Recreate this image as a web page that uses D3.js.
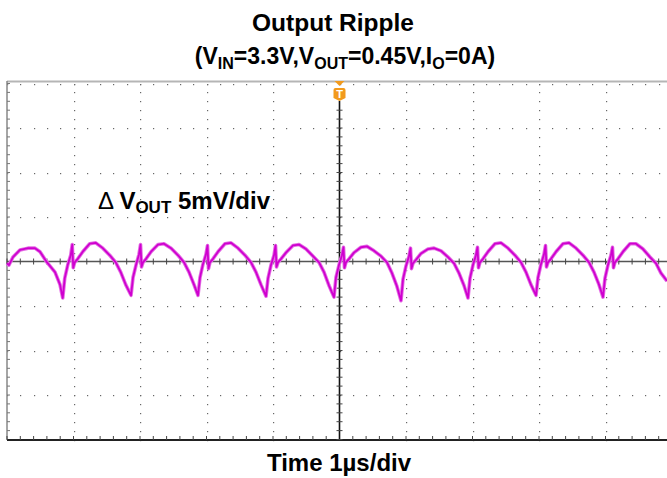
<!DOCTYPE html>
<html>
<head>
<meta charset="utf-8">
<script src="https://cdn.jsdelivr.net/npm/d3@7"></script>
<style>
  body { margin: 0; background: #fff; }
  svg { display: block; }
  text { font-family: "Liberation Sans", Arial, sans-serif; font-weight: bold; fill: #000; }
</style>
</head>
<body>
<div id="chart"></div>
<script>
// scope settings: 10 horizontal divisions of 1 us, 8 vertical divisions of 5 mV
let timeDomain = [0, 10];
let voltDomain = [-20, 20];
let timeMajor = [0, 1, 2, 3, 4, 5, 6, 7, 8, 9, 10];
let voltMajor = [-20, -15, -10, -5, 0, 5, 10, 15, 20];

// ripple trace: [time us, ripple mV]
let trace = [
  [0.000, -0.2], [0.030, -0.4], [0.090, 0.5], [0.195, 1.3], [0.316, 1.5], [0.421, 1.5], [0.496, 1.1], [0.602, -0.1], [0.722, -1.2], [0.797, -2.6],
  [0.838, -4.1], [0.868, -1.9], [0.913, -0.4], [0.958, 0.7], [0.981, 1.9], [0.996, -0.7], [1.018, -0.1], [1.064, 0.3], [1.139, 1.1], [1.244, 2.0], [1.334, 2.1], [1.440, 1.5], [1.545, 0.7], [1.635, -0.1], [1.710, -1.2], [1.785, -2.6],
  [1.865, -3.8], [1.895, -1.8], [1.940, -0.4], [1.985, 0.8], [2.008, 1.9], [2.023, -0.6], [2.045, -0.1], [2.091, 0.3], [2.166, 1.1], [2.271, 1.9], [2.361, 2.0], [2.467, 1.5], [2.572, 0.7], [2.662, -0.1], [2.737, -1.2], [2.812, -2.6],
  [2.872, -3.8], [2.902, -1.8], [2.947, -0.3], [2.992, 0.8], [3.015, 1.8], [3.030, -0.8], [3.052, -0.1], [3.098, 0.3], [3.173, 1.1], [3.278, 2.0], [3.368, 2.1], [3.474, 1.5], [3.579, 0.7], [3.669, -0.1], [3.744, -1.2], [3.819, -2.6],
  [3.895, -3.9], [3.925, -1.9], [3.970, -0.4], [4.015, 0.7], [4.038, 1.8], [4.053, -0.6], [4.075, -0.1], [4.121, 0.3], [4.196, 1.0], [4.301, 1.8], [4.391, 1.9], [4.497, 1.4], [4.602, 0.6], [4.692, -0.1], [4.767, -1.2], [4.842, -2.7],
  [4.917, -4.0], [4.947, -1.8], [4.992, -0.4], [5.037, 0.7], [5.060, 1.6], [5.075, -0.7], [5.097, -0.1], [5.143, 0.3], [5.218, 1.0], [5.323, 1.6], [5.413, 1.7], [5.519, 1.2], [5.624, 0.6], [5.714, -0.1], [5.789, -1.3], [5.864, -2.8],
  [5.925, -4.4], [5.955, -2.0], [6.000, -0.5], [6.045, 0.6], [6.068, 1.5], [6.083, -0.8], [6.105, -0.2], [6.151, 0.2], [6.226, 0.9], [6.331, 1.4], [6.421, 1.5], [6.527, 1.2], [6.632, 0.5], [6.722, -0.2], [6.797, -1.3], [6.872, -2.7],
  [6.932, -4.1], [6.962, -1.9], [7.007, -0.4], [7.052, 0.7], [7.075, 1.6], [7.090, -0.7], [7.112, -0.1], [7.158, 0.3], [7.233, 1.1], [7.338, 2.0], [7.428, 2.1], [7.534, 1.5], [7.639, 0.7], [7.729, -0.1], [7.804, -1.2], [7.879, -2.6],
  [7.955, -3.8], [7.985, -1.8], [8.030, -0.3], [8.075, 0.8], [8.098, 1.8], [8.113, -0.6], [8.135, -0.1], [8.181, 0.3], [8.256, 1.1], [8.361, 2.0], [8.451, 2.1], [8.557, 1.5], [8.662, 0.7], [8.752, -0.1], [8.827, -1.2], [8.902, -2.6],
  [8.962, -4.0], [8.992, -1.9], [9.037, -0.4], [9.082, 0.7], [9.105, 1.6], [9.120, -0.7], [9.142, -0.1], [9.188, 0.3], [9.263, 1.1], [9.368, 2.0], [9.458, 2.0], [9.564, 1.4], [9.669, 0.5], [9.759, -0.2], [9.834, -1.3], [9.925, -2.2]
];

let dim = {
  'width': 667,
  'height': 478
};

let svg = d3.select('#chart').append('svg')
  .attr('width', dim.width)
  .attr('height', dim.height);

svg.append('rect').attr('width', dim.width).attr('height', dim.height).attr('fill', '#fff');

let scaleX = d3.scaleLinear().domain(timeDomain).range([7, 672]);
let scaleY = d3.scaleLinear().domain(voltDomain).range([439.5, 83.5]);

let minorX = d3.range(timeDomain[0], timeDomain[1] + 0.001, 0.2);
let minorY = d3.range(voltDomain[0], voltDomain[1] + 0.001, 1);

let grid = svg.append('g');

// dotted rows
voltMajor.filter(v => v != 0 && v != voltDomain[0]).forEach(v => {
  grid.selectAll(null)
    .data(minorX)
    .join('rect')
    .attr('x', d => Math.round(scaleX(d)))
    .attr('y', Math.round(scaleY(v)))
    .attr('width', 1.2)
    .attr('height', 1.2)
    .attr('fill', '#666');
});

// dotted columns
timeMajor.filter(t => t != 5 && t != 0 && t != 10).forEach(t => {
  grid.selectAll(null)
    .data(minorY)
    .join('rect')
    .attr('x', Math.round(scaleX(t)))
    .attr('y', d => Math.round(scaleY(d)))
    .attr('width', 1.2)
    .attr('height', 1.2)
    .attr('fill', '#666');
});

// frame
grid.append('line')
  .attr('x1', scaleX(0)).attr('x2', dim.width)
  .attr('y1', 81.5).attr('y2', 81.5)
  .attr('stroke', '#b5b5b5').attr('stroke-width', 2);

grid.append('line')
  .attr('x1', scaleX(0)).attr('x2', scaleX(0))
  .attr('y1', 81).attr('y2', scaleY(voltDomain[0]))
  .attr('stroke', '#888').attr('stroke-width', 1.5);

grid.selectAll(null)
  .data(minorY)
  .join('line')
  .attr('x1', scaleX(0)).attr('x2', scaleX(0) + 3)
  .attr('y1', d => scaleY(d)).attr('y2', d => scaleY(d))
  .attr('stroke', '#777');

grid.append('line')
  .attr('x1', scaleX(0)).attr('x2', dim.width)
  .attr('y1', 440).attr('y2', 440)
  .attr('stroke', '#222').attr('stroke-width', 2);

grid.selectAll(null)
  .data(minorX)
  .join('line')
  .attr('x1', d => scaleX(d)).attr('x2', d => scaleX(d))
  .attr('y1', 436).attr('y2', 440)
  .attr('stroke', '#444');

// centre axes
grid.append('line')
  .attr('x1', scaleX(0)).attr('x2', dim.width)
  .attr('y1', scaleY(0)).attr('y2', scaleY(0))
  .attr('stroke', '#555').attr('stroke-width', 1.6);

grid.selectAll(null)
  .data(minorX)
  .join('line')
  .attr('x1', d => scaleX(d)).attr('x2', d => scaleX(d))
  .attr('y1', scaleY(0) - 3).attr('y2', scaleY(0) + 3)
  .attr('stroke', '#444');

grid.append('line')
  .attr('x1', scaleX(5)).attr('x2', scaleX(5))
  .attr('y1', 101).attr('y2', 440)
  .attr('stroke', '#111').attr('stroke-width', 1.6);

grid.selectAll(null)
  .data(minorY.filter(d => scaleY(d) > 104))
  .join('line')
  .attr('x1', scaleX(5) - 3).attr('x2', scaleX(5) + 3)
  .attr('y1', d => scaleY(d)).attr('y2', d => scaleY(d))
  .attr('stroke', '#444');

// trace
let line = d3.line()
  .x(d => scaleX(d[0]))
  .y(d => scaleY(d[1]));

svg.append('path')
  .datum(trace)
  .attr('d', line)
  .attr('fill', 'none')
  .attr('stroke', '#e46ee4')
  .attr('stroke-width', 3.6)
  .attr('stroke-linejoin', 'round');

svg.append('path')
  .datum(trace)
  .attr('d', line)
  .attr('fill', 'none')
  .attr('stroke', '#cf00cf')
  .attr('stroke-width', 1.8)
  .attr('stroke-linejoin', 'round');

// trigger marker
let tx = scaleX(5);
svg.append('path')
  .attr('d', `M${tx - 5},81 L${tx + 5},81 L${tx},86 Z`)
  .attr('fill', '#f29a1d');
svg.append('path')
  .attr('d', `M${tx - 6},90 Q${tx - 6},88 ${tx - 4},88 L${tx + 4},88 Q${tx + 6},88 ${tx + 6},90 L${tx + 6},98 L${tx},101 L${tx - 6},98 Z`)
  .attr('fill', '#f29a1d');
svg.append('text')
  .attr('x', tx).attr('y', 98)
  .attr('text-anchor', 'middle')
  .style('font-size', '11px')
  .style('fill', '#fff')
  .text('T');

// titles
svg.append('text')
  .attr('x', 333).attr('y', 31)
  .attr('text-anchor', 'middle')
  .style('font-size', '24.5px')
  .text('Output Ripple');

let sub = svg.append('text')
  .attr('x', 345).attr('y', 64)
  .attr('text-anchor', 'middle')
  .style('font-size', '23px');
[['(V', false], ['IN', true], ['=3.3V,V', false], ['OUT', true], ['=0.45V,I', false], ['O', true], ['=0A)', false]]
  .forEach(p => {
    sub.append('tspan')
      .attr('dy', p[1] ? 5 : (p[0] == '(V' ? 0 : -5))
      .style('font-size', p[1] ? '16px' : '23px')
      .text(p[0]);
  });

let lab = svg.append('text')
  .attr('x', 98).attr('y', 209)
  .style('font-size', '24px');
lab.append('tspan').style('font-weight', 'normal').text('\u0394 ');
lab.append('tspan').text('V');
lab.append('tspan').attr('dy', 4).style('font-size', '17px').text('OUT');
lab.append('tspan').attr('dy', -4).text(' 5mV/div');

svg.append('text')
  .attr('x', 339).attr('y', 471)
  .attr('text-anchor', 'middle')
  .style('font-size', '24px')
  .text('Time 1\u00b5s/div');
</script>
</body>
</html>
